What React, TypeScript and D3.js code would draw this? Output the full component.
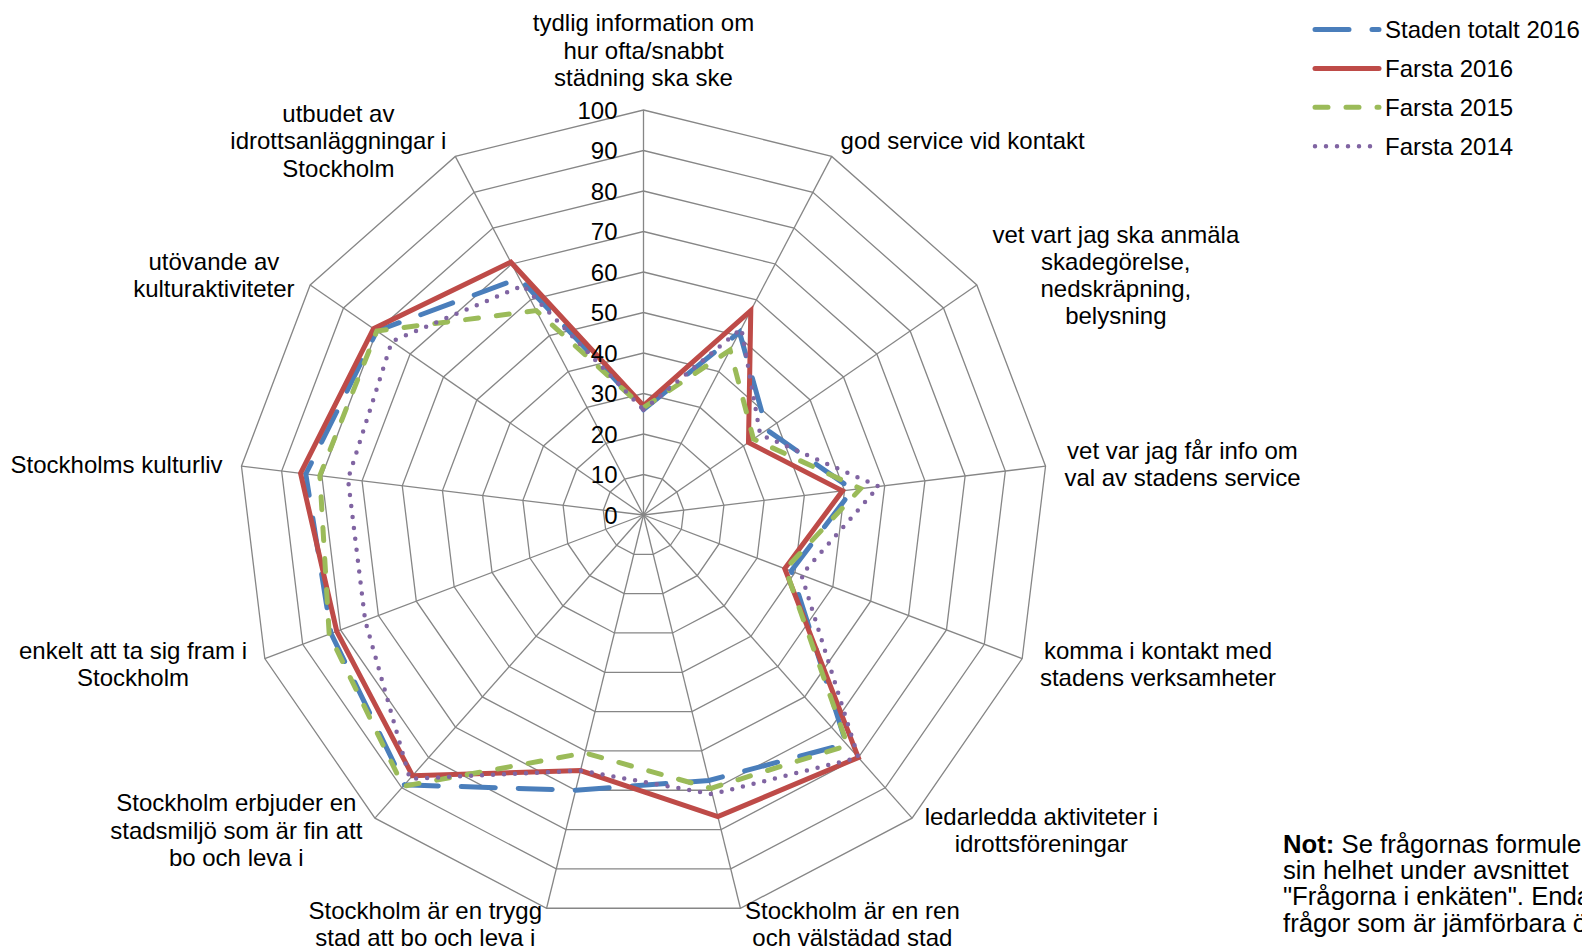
import React, { useMemo } from 'react';
import * as d3 from 'd3';

// axis labels, clockwise from the top
const categories: string[][] = [
  ['tydlig information om', 'hur ofta/snabbt', 'städning ska ske'],
  ['god service vid kontakt'],
  ['vet vart jag ska anmäla', 'skadegörelse,', 'nedskräpning,', 'belysning'],
  ['vet var jag får info om', 'val av stadens service'],
  ['komma i kontakt med', 'stadens verksamheter'],
  ['ledarledda aktiviteter i', 'idrottsföreningar'],
  ['Stockholm är en ren', 'och välstädad stad'],
  ['Stockholm är en trygg', 'stad att bo och leva i'],
  ['Stockholm erbjuder en', 'stadsmiljö som är fin att', 'bo och leva i'],
  ['enkelt att ta sig fram i', 'Stockholm'],
  ['Stockholms kulturliv'],
  ['utövande av', 'kulturaktiviteter'],
  ['utbudet av', 'idrottsanläggningar i', 'Stockholm'],
];

const stadenTotalt2016 = [26, 51, 37, 52, 39, 75.5, 67.5, 70, 89, 82.5, 84, 80, 66];
const farsta2016 = [27, 57, 31.5, 49.5, 37.3, 80, 76.7, 65, 86, 81, 85.3, 81, 70.5];
const farsta2015 = [26.5, 46, 33, 54, 37.5, 76, 69.5, 60.5, 89.5, 83, 80.5, 80, 57];
const farsta2014 = [26, 52, 35, 58.5, 41.7, 80, 71, 65, 87, 73.5, 73.5, 75.5, 64];

const ticks = [0, 10, 20, 30, 40, 50, 60, 70, 80, 90, 100];

const noteLines = [
  'Se frågornas formulering i',
  'sin helhet under avsnittet',
  '"Frågorna i enkäten". Endast',
  'frågor som är jämförbara över tid',
];

const series = [
  { name: 'Staden totalt 2016', values: stadenTotalt2016, color: '#4A7EBB', width: 5, dash: '34 23' },
  { name: 'Farsta 2016', values: farsta2016, color: '#BE4B48', width: 5, dash: undefined },
  { name: 'Farsta 2015', values: farsta2015, color: '#9BBB59', width: 5, dash: '13 18' },
  { name: 'Farsta 2014', values: farsta2014, color: '#8064A2', width: 4.5, dash: '0 11' },
];

const FONT = '"Liberation Sans", Arial, sans-serif';
const W = 1582;
const H = 949;
const cx = 643.5;
const cy = 515;
const R = 405;
const fs = 24;
const lh = 27.3;

const App: React.FC = () => {
  const n = categories.length;
  const r = d3.scaleLinear().domain([0, 100]).range([0, R]);
  const angle = (i: number) => (i * 2 * Math.PI) / n;

  const measure = useMemo(() => {
    const ctx = document.createElement('canvas').getContext('2d')!;
    ctx.font = `${fs}px ${FONT}`;
    return (s: string) => ctx.measureText(s).width;
  }, []);

  const ring = (v: number) =>
    d3.lineRadial<number>()
      .angle((_, i) => angle(i))
      .radius(() => r(v))
      .curve(d3.curveLinearClosed)(d3.range(n))!;

  const seriesLine = d3.lineRadial<number>()
    .angle((_, i) => angle(i))
    .radius((d) => r(d))
    .curve(d3.curveLinearClosed);

  const labels = categories.map((lines, i) => {
    const a = angle(i);
    const s = Math.sin(a);
    const c = Math.cos(a);
    const vx = cx + R * s;
    const vy = cy - R * c;
    const halfW = d3.max(lines, measure)! / 2;
    const halfH = (lines.length * lh) / 2;
    let x = vx;
    let y = vy - c * (c > 0 ? 17.5 : 16);
    if (Math.abs(s) < 0.05) {
      y -= Math.sign(c) * (halfH + 1.5);
    } else {
      x = vx + s * 19 + Math.sign(s) * halfW;
    }
    return { lines, x, y };
  });

  return (
    <svg width={W} height={H} style={{ position: 'absolute', left: 0, top: 0, background: '#fff' }} fontFamily={FONT}>
      <g transform={`translate(${cx},${cy})`}>
        {ticks.filter((t) => t > 0).map((t) => (
          <path key={t} d={ring(t)} fill="none" stroke="#868686" strokeWidth={1.3} />
        ))}
        {d3.range(n).map((i) => (
          <line key={i} x1={0} y1={0} x2={r(100) * Math.sin(angle(i))} y2={-r(100) * Math.cos(angle(i))}
            stroke="#868686" strokeWidth={1.3} />
        ))}
        {series.map((sr) => (
          <path key={sr.name} d={seriesLine(sr.values)!} fill="none" stroke={sr.color} strokeWidth={sr.width}
            strokeDasharray={sr.dash} strokeLinecap="round" strokeLinejoin="miter" />
        ))}
        {ticks.map((t) => (
          <text key={t} x={-26} y={-r(t)} textAnchor="end" dominantBaseline="central" fontSize={fs} fill="#000">{t}</text>
        ))}
      </g>
      {labels.map((lb, i) => (
        <text key={i} textAnchor="middle" fontSize={fs} fill="#000">
          {lb.lines.map((ln, j) => (
            <tspan key={j} x={lb.x} y={lb.y + (j - (lb.lines.length - 1) / 2) * lh} dominantBaseline="central">{ln}</tspan>
          ))}
        </text>
      ))}
      {series.map((sr, i) => (
        <g key={sr.name} transform={`translate(0,${29.5 + i * 38.9})`}>
          <line x1={1315} x2={1379} y1={0} y2={0} stroke={sr.color} strokeWidth={sr.width}
            strokeDasharray={sr.dash} strokeLinecap="round" />
          <text x={1385} y={0} dominantBaseline="central" fontSize={fs} fill="#000">{sr.name}</text>
        </g>
      ))}
      <text fontSize={25.7} fill="#000">
        {noteLines.map((ln, j) => (
          <tspan key={j} x={1283} y={844 + j * 26.2} dominantBaseline="central">
            {j === 0 ? <tspan fontWeight="bold">Not: </tspan> : null}
            {ln}
          </tspan>
        ))}
      </text>
    </svg>
  );
};

export default App;
